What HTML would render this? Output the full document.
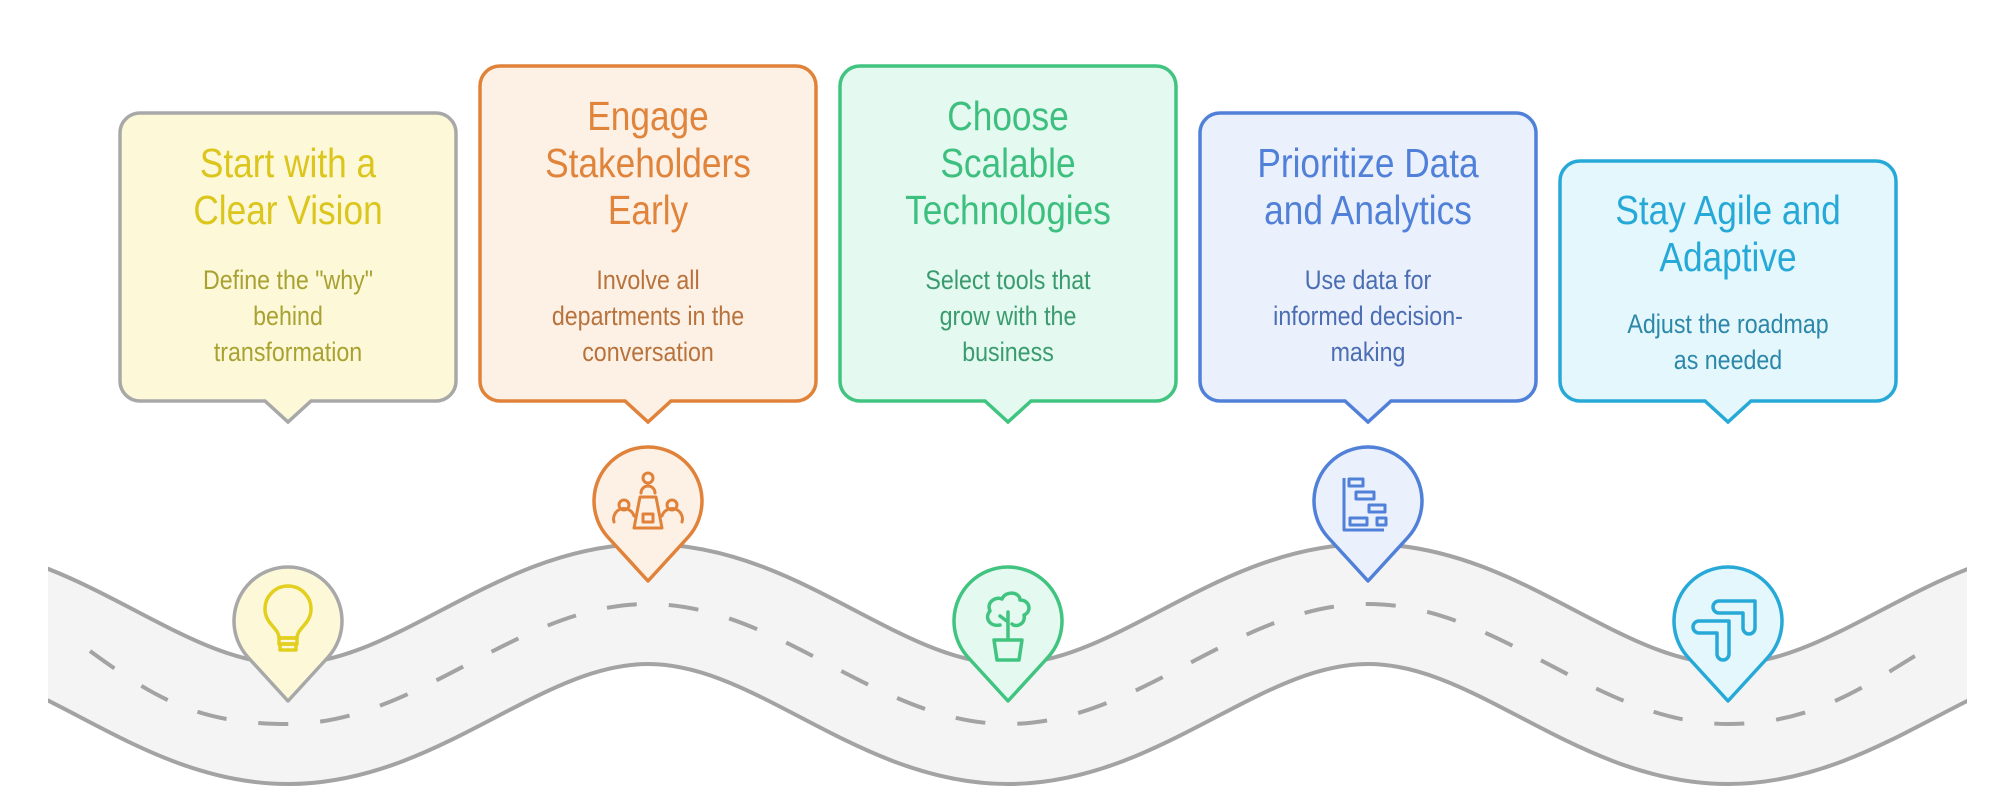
<!DOCTYPE html>
<html><head><meta charset="utf-8"><style>
html,body{margin:0;padding:0;background:#fff;width:2016px;height:810px;overflow:hidden}
svg{display:block}
text{font-family:"Liberation Sans",sans-serif;text-anchor:middle}
.t{font-size:41px}
.b{font-size:27px}
</style></head><body>
<svg width="2016" height="810" viewBox="0 0 2016 810" xmlns="http://www.w3.org/2000/svg">
<defs><clipPath id="c"><rect x="48" y="0" width="1919" height="810"/></clipPath></defs>
<g clip-path="url(#c)" fill="none">
<path d="M-72,604 C59,604 157,724 288,724 C419,724 517,604 648,604 C779,604 877,724 1008,724 C1139,724 1237,604 1368,604 C1499,604 1597,724 1728,724 C1859,724 1957,604 2088,604" stroke="#a3a3a3" stroke-width="124"/>
<path d="M-72,604 C59,604 157,724 288,724 C419,724 517,604 648,604 C779,604 877,724 1008,724 C1139,724 1237,604 1368,604 C1499,604 1597,724 1728,724 C1859,724 1957,604 2088,604" stroke="#f4f4f4" stroke-width="116"/>
</g>
<path d="M90,651 C157,700 200,724 288,724 C419,724 517,604 648,604 C779,604 877,724 1008,724 C1139,724 1237,604 1368,604 C1499,604 1597,724 1728,724 C1810,724 1860,690 1926,649" fill="none" stroke="#a3a3a3" stroke-width="4" stroke-dasharray="30 32"/>

<path d="M140,113 H436 A20 20 0 0 1 456,133 V381 A20 20 0 0 1 436,401 H311 L288,422 L265,401 H140 A20 20 0 0 1 120,381 V133 A20 20 0 0 1 140,113 Z" fill="#fdf9d8" stroke="#a8a8a8" stroke-width="3.5"/>
<path d="M500,66 H796 A20 20 0 0 1 816,86 V381 A20 20 0 0 1 796,401 H671 L648,422 L625,401 H500 A20 20 0 0 1 480,381 V86 A20 20 0 0 1 500,66 Z" fill="#fdf0e5" stroke="#e0823a" stroke-width="3.5"/>
<path d="M860,66 H1156 A20 20 0 0 1 1176,86 V381 A20 20 0 0 1 1156,401 H1031 L1008,422 L985,401 H860 A20 20 0 0 1 840,381 V86 A20 20 0 0 1 860,66 Z" fill="#e4f9ef" stroke="#40c480" stroke-width="3.5"/>
<path d="M1220,113 H1516 A20 20 0 0 1 1536,133 V381 A20 20 0 0 1 1516,401 H1391 L1368,422 L1345,401 H1220 A20 20 0 0 1 1200,381 V133 A20 20 0 0 1 1220,113 Z" fill="#eaf1fd" stroke="#5080d8" stroke-width="3.5"/>
<path d="M1580,161 H1876 A20 20 0 0 1 1896,181 V381 A20 20 0 0 1 1876,401 H1751 L1728,422 L1705,401 H1580 A20 20 0 0 1 1560,381 V181 A20 20 0 0 1 1580,161 Z" fill="#e4f7fd" stroke="#27a9d8" stroke-width="3.5"/>

<g transform="translate(288,0) scale(0.86,1)">
<g fill="#dcc51c"><text x="0" y="177" class="t">Start with a</text><text x="0" y="224" class="t">Clear Vision</text></g>
<g fill="#a9a132"><text x="0" y="289" class="b">Define the "why"</text><text x="0" y="325" class="b">behind</text><text x="0" y="361" class="b">transformation</text></g>
</g>
<g transform="translate(648,0) scale(0.86,1)">
<g fill="#e0843c"><text x="0" y="130" class="t">Engage</text><text x="0" y="177" class="t">Stakeholders</text><text x="0" y="224" class="t">Early</text></g>
<g fill="#b8733c"><text x="0" y="289" class="b">Involve all</text><text x="0" y="325" class="b">departments in the</text><text x="0" y="361" class="b">conversation</text></g>
</g>
<g transform="translate(1008,0) scale(0.86,1)">
<g fill="#3dbf7f"><text x="0" y="130" class="t">Choose</text><text x="0" y="177" class="t">Scalable</text><text x="0" y="224" class="t">Technologies</text></g>
<g fill="#3a9b6f"><text x="0" y="289" class="b">Select tools that</text><text x="0" y="325" class="b">grow with the</text><text x="0" y="361" class="b">business</text></g>
</g>
<g transform="translate(1368,0) scale(0.86,1)">
<g fill="#5080d8"><text x="0" y="177" class="t">Prioritize Data</text><text x="0" y="224" class="t">and Analytics</text></g>
<g fill="#4b6db2"><text x="0" y="289" class="b">Use data for</text><text x="0" y="325" class="b">informed decision-</text><text x="0" y="361" class="b">making</text></g>
</g>
<g transform="translate(1728,0) scale(0.86,1)">
<g fill="#27a9d8"><text x="0" y="224" class="t">Stay Agile and</text><text x="0" y="271" class="t">Adaptive</text></g>
<g fill="#2c87a8"><text x="0" y="333" class="b">Adjust the roadmap</text><text x="0" y="369" class="b">as needed</text></g>
</g>

<path d="M288,701 L248.2,657.5 A54 54 0 1 1 327.8,657.5 Z" fill="#fdf9d8" stroke="#a8a8a8" stroke-width="3.5" stroke-linejoin="round"/>
<path d="M648,581 L608.2,537.5 A54 54 0 1 1 687.8,537.5 Z" fill="#fdf0e5" stroke="#e0823a" stroke-width="3.5" stroke-linejoin="round"/>
<path d="M1008,701 L968.2,657.5 A54 54 0 1 1 1047.8,657.5 Z" fill="#e4f9ef" stroke="#40c480" stroke-width="3.5" stroke-linejoin="round"/>
<path d="M1368,581 L1328.2,537.5 A54 54 0 1 1 1407.8,537.5 Z" fill="#eaf1fd" stroke="#5080d8" stroke-width="3.5" stroke-linejoin="round"/>
<path d="M1728,701 L1688.2,657.5 A54 54 0 1 1 1767.8,657.5 Z" fill="#e4f7fd" stroke="#27a9d8" stroke-width="3.5" stroke-linejoin="round"/>

<g fill="none" stroke="#e3cf1f" stroke-width="3.5" stroke-linecap="round" stroke-linejoin="round">
<path d="M279,638 C279,628 265,624 265,609 A23 23 0 0 1 311,609 C311,624 297,628 297,638 Z"/>
<rect x="279" y="638" width="18" height="6"/><rect x="280" y="644" width="16" height="6"/>
</g>
<g fill="none" stroke="#e0823a" stroke-width="3" stroke-linecap="round" stroke-linejoin="round">
<circle cx="648" cy="478" r="5"/><path d="M641,493 A7 7 0 0 1 655,493"/>
<path d="M640,497 H656 L662,528 H634 Z"/><rect x="643" y="514" width="10" height="8"/>
<circle cx="624" cy="505" r="5"/><path d="M614,522 A10 10 0 0 1 634,516"/>
<circle cx="672" cy="505" r="5"/><path d="M662,516 A10 10 0 0 1 682,522"/>
</g>
<g fill="none" stroke="#40c480" stroke-width="3.5" stroke-linecap="round" stroke-linejoin="round">
<path d="M1000,625 C990,627 984,618 990,611 C986,602 996,596 1002,599 C1006,590 1020,592 1020,600 C1030,600 1032,612 1024,615 C1026,624 1016,628 1012,624"/>
<path d="M1008,612 V640 M1008,622 L1000,616"/>
<path d="M994,640 H1022 L1019,660 H997 Z"/>
</g>
<g fill="none" stroke="#5080d8" stroke-width="3" stroke-linejoin="round">
<path d="M1344,478 V530 H1384"/>
<rect x="1349" y="479" width="14" height="7"/><rect x="1356" y="492" width="18" height="7"/><rect x="1369" y="505" width="16" height="7"/>
<rect x="1350" y="518" width="17" height="7"/><rect x="1377" y="518" width="9" height="7"/>
</g>
<g fill="none" stroke="#27a9d8" stroke-width="3.5" stroke-linecap="round" stroke-linejoin="round">
<path d="M1719,601 H1755 V628 A6 6 0 0 1 1743,628 V613 H1719 A6 6 0 0 1 1719,601 Z"/>
<path d="M1699,621 H1729 V654 A6 6 0 0 1 1717,654 V633 H1699 A6 6 0 0 1 1699,621 Z"/>
</g>
</svg>
</body></html>
